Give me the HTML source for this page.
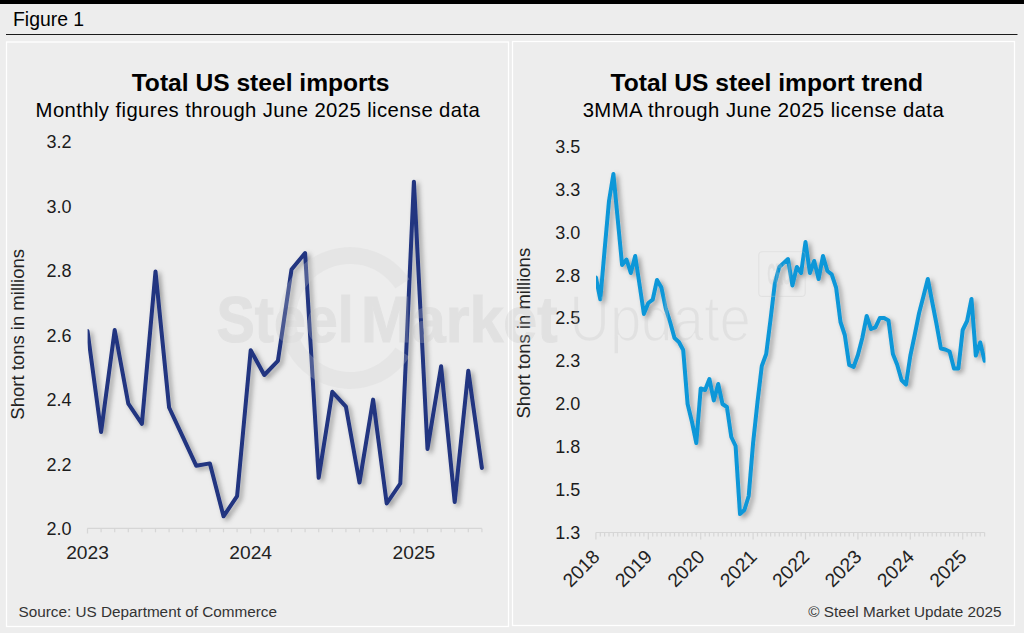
<!DOCTYPE html>
<html><head><meta charset="utf-8"><style>
html,body{margin:0;padding:0;background:#ededed;width:1024px;height:633px;overflow:hidden}
svg{display:block}
text{font-family:'Liberation Sans',sans-serif}
</style></head><body>
<svg width="1024" height="633" viewBox="0 0 1024 633">
<defs>
<filter id="sh" x="-10%" y="-10%" width="120%" height="120%">
<feDropShadow dx="3" dy="2.5" stdDeviation="2.5" flood-color="#000" flood-opacity="0.35"/>
</filter>
<clipPath id="cl"><rect x="87.6" y="140" width="420" height="400"/></clipPath>
<clipPath id="cr"><rect x="596" y="140" width="389.5" height="400"/></clipPath>
</defs>
<rect x="0" y="0" width="1024" height="633" fill="#ededed"/>
<rect x="0" y="0" width="1024" height="4" fill="#000"/>
<text x="13" y="26" font-size="19.4" fill="#000">Figure 1</text>
<rect x="6" y="34" width="1011.5" height="1" fill="#1a1a1a"/>
<rect x="6.5" y="42" width="502" height="584.5" fill="none" stroke="#fff" stroke-width="1.3"/>
<rect x="512.5" y="41.5" width="502" height="584" fill="none" stroke="#fff" stroke-width="1.3"/>

<text x="260.6" y="91" font-size="24.6" font-weight="700" text-anchor="middle" fill="#000">Total US steel imports</text>
<text x="257.9" y="117" font-size="20.3" letter-spacing="0.4" text-anchor="middle" fill="#000">Monthly figures through June 2025 license data</text>
<text x="71.5" y="148.2" font-size="18" text-anchor="end" fill="#1c1c1c">3.2</text>
<text x="71.5" y="212.7" font-size="18" text-anchor="end" fill="#1c1c1c">3.0</text>
<text x="71.5" y="277.1" font-size="18" text-anchor="end" fill="#1c1c1c">2.8</text>
<text x="71.5" y="341.6" font-size="18" text-anchor="end" fill="#1c1c1c">2.6</text>
<text x="71.5" y="406.1" font-size="18" text-anchor="end" fill="#1c1c1c">2.4</text>
<text x="71.5" y="470.6" font-size="18" text-anchor="end" fill="#1c1c1c">2.2</text>
<text x="71.5" y="535.1" font-size="18" text-anchor="end" fill="#1c1c1c">2.0</text>
<g stroke="#d6d6d6" stroke-width="1.2" fill="none">
<line x1="87.3" y1="528.4" x2="481.9" y2="528.4"/>
<line x1="87.5" y1="528.4" x2="87.5" y2="533.5"/>
<line x1="101.1" y1="528.4" x2="101.1" y2="532.3"/>
<line x1="114.7" y1="528.4" x2="114.7" y2="532.3"/>
<line x1="128.3" y1="528.4" x2="128.3" y2="532.3"/>
<line x1="141.9" y1="528.4" x2="141.9" y2="532.3"/>
<line x1="155.5" y1="528.4" x2="155.5" y2="532.3"/>
<line x1="169.1" y1="528.4" x2="169.1" y2="532.3"/>
<line x1="182.7" y1="528.4" x2="182.7" y2="532.3"/>
<line x1="196.3" y1="528.4" x2="196.3" y2="532.3"/>
<line x1="209.9" y1="528.4" x2="209.9" y2="532.3"/>
<line x1="223.5" y1="528.4" x2="223.5" y2="532.3"/>
<line x1="237.1" y1="528.4" x2="237.1" y2="532.3"/>
<line x1="250.7" y1="528.4" x2="250.7" y2="533.5"/>
<line x1="264.3" y1="528.4" x2="264.3" y2="532.3"/>
<line x1="277.9" y1="528.4" x2="277.9" y2="532.3"/>
<line x1="291.5" y1="528.4" x2="291.5" y2="532.3"/>
<line x1="305.1" y1="528.4" x2="305.1" y2="532.3"/>
<line x1="318.7" y1="528.4" x2="318.7" y2="532.3"/>
<line x1="332.3" y1="528.4" x2="332.3" y2="532.3"/>
<line x1="345.9" y1="528.4" x2="345.9" y2="532.3"/>
<line x1="359.5" y1="528.4" x2="359.5" y2="532.3"/>
<line x1="373.1" y1="528.4" x2="373.1" y2="532.3"/>
<line x1="386.7" y1="528.4" x2="386.7" y2="532.3"/>
<line x1="400.3" y1="528.4" x2="400.3" y2="532.3"/>
<line x1="413.9" y1="528.4" x2="413.9" y2="533.5"/>
<line x1="427.5" y1="528.4" x2="427.5" y2="532.3"/>
<line x1="441.1" y1="528.4" x2="441.1" y2="532.3"/>
<line x1="454.7" y1="528.4" x2="454.7" y2="532.3"/>
<line x1="468.3" y1="528.4" x2="468.3" y2="532.3"/>
<line x1="481.9" y1="528.4" x2="481.9" y2="532.3"/>
</g>
<text x="87.5" y="559.2" font-size="19.2" text-anchor="middle" fill="#222">2023</text>
<text x="250.7" y="559.2" font-size="19.2" text-anchor="middle" fill="#222">2024</text>
<text x="413.9" y="559.2" font-size="19.2" text-anchor="middle" fill="#222">2025</text>
<text transform="translate(23.7,334.3) rotate(-90)" font-size="18.5" text-anchor="middle" fill="#222">Short tons in millions</text>
<text x="18.5" y="616.7" font-size="15.3" fill="#333">Source: US Department of Commerce</text>
<g clip-path="url(#cl)"><polyline points="87.5,331 101.1,432 114.7,330 128.3,403.6 141.9,423.8 155.5,271.5 169.1,407.5 182.7,436.7 196.3,465.8 209.9,463.4 223.5,516.3 237.1,496.1 250.7,350.2 264.3,375 277.9,360.9 291.5,269.6 305.1,253 318.7,477.8 332.3,391.8 345.9,406.7 359.5,482.6 373.1,399.6 386.7,503.5 400.3,483.5 413.9,181.7 427.5,448.9 441.1,366.2 454.7,502 468.3,370.7 481.9,467.9" fill="none" stroke="#203480" stroke-width="4" stroke-linejoin="round" stroke-linecap="round" filter="url(#sh)"/></g>
<text x="766.8" y="91" font-size="24.6" font-weight="700" text-anchor="middle" fill="#000">Total US steel import trend</text>
<text x="763.4" y="117" font-size="20.3" letter-spacing="0.44" text-anchor="middle" fill="#000">3MMA through June 2025 license data</text>
<text x="580.3" y="152.8" font-size="18" text-anchor="end" fill="#1c1c1c">3.5</text>
<text x="580.3" y="195.7" font-size="18" text-anchor="end" fill="#1c1c1c">3.3</text>
<text x="580.3" y="238.6" font-size="18" text-anchor="end" fill="#1c1c1c">3.0</text>
<text x="580.3" y="281.5" font-size="18" text-anchor="end" fill="#1c1c1c">2.8</text>
<text x="580.3" y="324.4" font-size="18" text-anchor="end" fill="#1c1c1c">2.5</text>
<text x="580.3" y="367.3" font-size="18" text-anchor="end" fill="#1c1c1c">2.3</text>
<text x="580.3" y="410.2" font-size="18" text-anchor="end" fill="#1c1c1c">2.0</text>
<text x="580.3" y="453.1" font-size="18" text-anchor="end" fill="#1c1c1c">1.8</text>
<text x="580.3" y="496.0" font-size="18" text-anchor="end" fill="#1c1c1c">1.5</text>
<text x="580.3" y="538.9" font-size="18" text-anchor="end" fill="#1c1c1c">1.3</text>
<g stroke="#d6d6d6" stroke-width="1.2" fill="none">
<line x1="595.9" y1="532.5" x2="984.6" y2="532.5"/>
<line x1="595.9" y1="532.5" x2="595.9" y2="539.5"/>
<line x1="600.3" y1="532.5" x2="600.3" y2="536.5"/>
<line x1="604.6" y1="532.5" x2="604.6" y2="536.5"/>
<line x1="609.0" y1="532.5" x2="609.0" y2="536.5"/>
<line x1="613.4" y1="532.5" x2="613.4" y2="536.5"/>
<line x1="617.7" y1="532.5" x2="617.7" y2="536.5"/>
<line x1="622.1" y1="532.5" x2="622.1" y2="536.5"/>
<line x1="626.5" y1="532.5" x2="626.5" y2="536.5"/>
<line x1="630.8" y1="532.5" x2="630.8" y2="536.5"/>
<line x1="635.2" y1="532.5" x2="635.2" y2="536.5"/>
<line x1="639.6" y1="532.5" x2="639.6" y2="536.5"/>
<line x1="643.9" y1="532.5" x2="643.9" y2="536.5"/>
<line x1="648.3" y1="532.5" x2="648.3" y2="539.5"/>
<line x1="652.7" y1="532.5" x2="652.7" y2="536.5"/>
<line x1="657.0" y1="532.5" x2="657.0" y2="536.5"/>
<line x1="661.4" y1="532.5" x2="661.4" y2="536.5"/>
<line x1="665.8" y1="532.5" x2="665.8" y2="536.5"/>
<line x1="670.1" y1="532.5" x2="670.1" y2="536.5"/>
<line x1="674.5" y1="532.5" x2="674.5" y2="536.5"/>
<line x1="678.9" y1="532.5" x2="678.9" y2="536.5"/>
<line x1="683.2" y1="532.5" x2="683.2" y2="536.5"/>
<line x1="687.6" y1="532.5" x2="687.6" y2="536.5"/>
<line x1="692.0" y1="532.5" x2="692.0" y2="536.5"/>
<line x1="696.3" y1="532.5" x2="696.3" y2="536.5"/>
<line x1="700.7" y1="532.5" x2="700.7" y2="539.5"/>
<line x1="705.1" y1="532.5" x2="705.1" y2="536.5"/>
<line x1="709.4" y1="532.5" x2="709.4" y2="536.5"/>
<line x1="713.8" y1="532.5" x2="713.8" y2="536.5"/>
<line x1="718.2" y1="532.5" x2="718.2" y2="536.5"/>
<line x1="722.5" y1="532.5" x2="722.5" y2="536.5"/>
<line x1="726.9" y1="532.5" x2="726.9" y2="536.5"/>
<line x1="731.3" y1="532.5" x2="731.3" y2="536.5"/>
<line x1="735.6" y1="532.5" x2="735.6" y2="536.5"/>
<line x1="740.0" y1="532.5" x2="740.0" y2="536.5"/>
<line x1="744.4" y1="532.5" x2="744.4" y2="536.5"/>
<line x1="748.7" y1="532.5" x2="748.7" y2="536.5"/>
<line x1="753.1" y1="532.5" x2="753.1" y2="539.5"/>
<line x1="757.5" y1="532.5" x2="757.5" y2="536.5"/>
<line x1="761.8" y1="532.5" x2="761.8" y2="536.5"/>
<line x1="766.2" y1="532.5" x2="766.2" y2="536.5"/>
<line x1="770.6" y1="532.5" x2="770.6" y2="536.5"/>
<line x1="774.9" y1="532.5" x2="774.9" y2="536.5"/>
<line x1="779.3" y1="532.5" x2="779.3" y2="536.5"/>
<line x1="783.7" y1="532.5" x2="783.7" y2="536.5"/>
<line x1="788.0" y1="532.5" x2="788.0" y2="536.5"/>
<line x1="792.4" y1="532.5" x2="792.4" y2="536.5"/>
<line x1="796.8" y1="532.5" x2="796.8" y2="536.5"/>
<line x1="801.1" y1="532.5" x2="801.1" y2="536.5"/>
<line x1="805.5" y1="532.5" x2="805.5" y2="539.5"/>
<line x1="809.9" y1="532.5" x2="809.9" y2="536.5"/>
<line x1="814.2" y1="532.5" x2="814.2" y2="536.5"/>
<line x1="818.6" y1="532.5" x2="818.6" y2="536.5"/>
<line x1="823.0" y1="532.5" x2="823.0" y2="536.5"/>
<line x1="827.4" y1="532.5" x2="827.4" y2="536.5"/>
<line x1="831.7" y1="532.5" x2="831.7" y2="536.5"/>
<line x1="836.1" y1="532.5" x2="836.1" y2="536.5"/>
<line x1="840.5" y1="532.5" x2="840.5" y2="536.5"/>
<line x1="844.8" y1="532.5" x2="844.8" y2="536.5"/>
<line x1="849.2" y1="532.5" x2="849.2" y2="536.5"/>
<line x1="853.6" y1="532.5" x2="853.6" y2="536.5"/>
<line x1="857.9" y1="532.5" x2="857.9" y2="539.5"/>
<line x1="862.3" y1="532.5" x2="862.3" y2="536.5"/>
<line x1="866.7" y1="532.5" x2="866.7" y2="536.5"/>
<line x1="871.0" y1="532.5" x2="871.0" y2="536.5"/>
<line x1="875.4" y1="532.5" x2="875.4" y2="536.5"/>
<line x1="879.8" y1="532.5" x2="879.8" y2="536.5"/>
<line x1="884.1" y1="532.5" x2="884.1" y2="536.5"/>
<line x1="888.5" y1="532.5" x2="888.5" y2="536.5"/>
<line x1="892.9" y1="532.5" x2="892.9" y2="536.5"/>
<line x1="897.2" y1="532.5" x2="897.2" y2="536.5"/>
<line x1="901.6" y1="532.5" x2="901.6" y2="536.5"/>
<line x1="906.0" y1="532.5" x2="906.0" y2="536.5"/>
<line x1="910.3" y1="532.5" x2="910.3" y2="539.5"/>
<line x1="914.7" y1="532.5" x2="914.7" y2="536.5"/>
<line x1="919.1" y1="532.5" x2="919.1" y2="536.5"/>
<line x1="923.4" y1="532.5" x2="923.4" y2="536.5"/>
<line x1="927.8" y1="532.5" x2="927.8" y2="536.5"/>
<line x1="932.2" y1="532.5" x2="932.2" y2="536.5"/>
<line x1="936.5" y1="532.5" x2="936.5" y2="536.5"/>
<line x1="940.9" y1="532.5" x2="940.9" y2="536.5"/>
<line x1="945.3" y1="532.5" x2="945.3" y2="536.5"/>
<line x1="949.6" y1="532.5" x2="949.6" y2="536.5"/>
<line x1="954.0" y1="532.5" x2="954.0" y2="536.5"/>
<line x1="958.4" y1="532.5" x2="958.4" y2="536.5"/>
<line x1="962.7" y1="532.5" x2="962.7" y2="539.5"/>
<line x1="967.1" y1="532.5" x2="967.1" y2="536.5"/>
<line x1="971.5" y1="532.5" x2="971.5" y2="536.5"/>
<line x1="975.8" y1="532.5" x2="975.8" y2="536.5"/>
<line x1="980.2" y1="532.5" x2="980.2" y2="536.5"/>
<line x1="984.6" y1="532.5" x2="984.6" y2="536.5"/>
</g>
<text transform="translate(600.9,558) rotate(-45)" font-size="19.2" text-anchor="end" fill="#222">2018</text>
<text transform="translate(653.3,558) rotate(-45)" font-size="19.2" text-anchor="end" fill="#222">2019</text>
<text transform="translate(705.7,558) rotate(-45)" font-size="19.2" text-anchor="end" fill="#222">2020</text>
<text transform="translate(758.1,558) rotate(-45)" font-size="19.2" text-anchor="end" fill="#222">2021</text>
<text transform="translate(810.5,558) rotate(-45)" font-size="19.2" text-anchor="end" fill="#222">2022</text>
<text transform="translate(862.9,558) rotate(-45)" font-size="19.2" text-anchor="end" fill="#222">2023</text>
<text transform="translate(915.3,558) rotate(-45)" font-size="19.2" text-anchor="end" fill="#222">2024</text>
<text transform="translate(967.7,558) rotate(-45)" font-size="19.2" text-anchor="end" fill="#222">2025</text>
<text transform="translate(529.9,333.2) rotate(-90)" font-size="18.5" text-anchor="middle" fill="#222">Short tons in millions</text>
<text x="1001.5" y="616.5" font-size="15.3" text-anchor="end" fill="#333">© Steel Market Update 2025</text>
<g clip-path="url(#cr)"><polyline points="595.9,277.5 600.3,299.3 604.6,250 609.0,201 613.4,174 617.7,219 622.1,265 626.5,259.5 630.8,273 635.2,256 639.6,285 643.9,314 648.3,303 652.7,299.7 657.0,280 661.4,287.6 665.8,308.6 670.1,322 674.5,338 678.9,342 683.2,350 687.6,404 692.0,422 696.3,443 700.7,388.5 705.1,390 709.4,379 713.8,400.4 718.2,384 722.5,404 726.9,407 731.3,437 735.6,446 740.0,514 744.4,510 748.7,496 753.1,443 757.5,402 761.8,366 766.2,354 770.6,319 774.9,283 779.3,267 783.7,263 788.0,259 792.4,285.5 796.8,267 801.1,273 805.5,242 809.9,273 814.2,261 818.6,279 823.0,256 827.4,271 831.7,274.3 836.1,287.6 840.5,322 844.8,335 849.2,365 853.6,367 857.9,355 862.3,338 866.7,316 871.0,329 875.4,327.3 879.8,318 884.1,318 888.5,320.4 892.9,354 897.2,364.7 901.6,380.3 906.0,384.5 910.3,356 914.7,335 919.1,313 923.4,296.5 927.8,279 932.2,302 936.5,324 940.9,348.5 945.3,349.5 949.6,351.5 954.0,368.5 958.4,368.5 962.7,330 967.1,321 971.5,299 975.8,355.5 980.2,342.5 984.6,360.7" fill="none" stroke="#0d97d8" stroke-width="4" stroke-linejoin="round" stroke-linecap="round" filter="url(#sh)"/></g>
<mask id="thin" maskUnits="userSpaceOnUse" x="0" y="0" width="1024" height="633"><rect x="0" y="0" width="1024" height="633" fill="black"/><text transform="translate(569.2,341.3) scale(0.881,1)" font-size="64" fill="white" stroke="black" stroke-width="1.7">Update</text></mask>
<g opacity="0.26" fill="#c2c2c2">
<path fill="#d2d2d2" d="M409.55,279.33 A71,71 0 1,0 409.55,356.67 L395.29,347.41 A54,54 0 1,1 395.29,288.59 Z"/>
<text transform="translate(216.5,341.5) scale(0.897,1)" font-size="64" font-weight="700" stroke="#c2c2c2" stroke-width="1.2">Steel</text>
<text transform="translate(361.0,341.5) scale(0.953,1)" font-size="64" font-weight="700" stroke="#c2c2c2" stroke-width="1.2">Market</text>
<g mask="url(#thin)"><text transform="translate(569.2,341.3) scale(0.881,1)" font-size="64" font-weight="400">Update</text></g>
<rect x="758.8" y="251.8" width="46.4" height="44.6" rx="3.5" fill="none" stroke="#c2c2c2" stroke-width="1.1"/>
<text transform="translate(767.5,284.2) scale(0.36,1)" font-size="30" font-weight="700" stroke="#c2c2c2" stroke-width="1">CRU</text>
</g>
</svg></body></html>
